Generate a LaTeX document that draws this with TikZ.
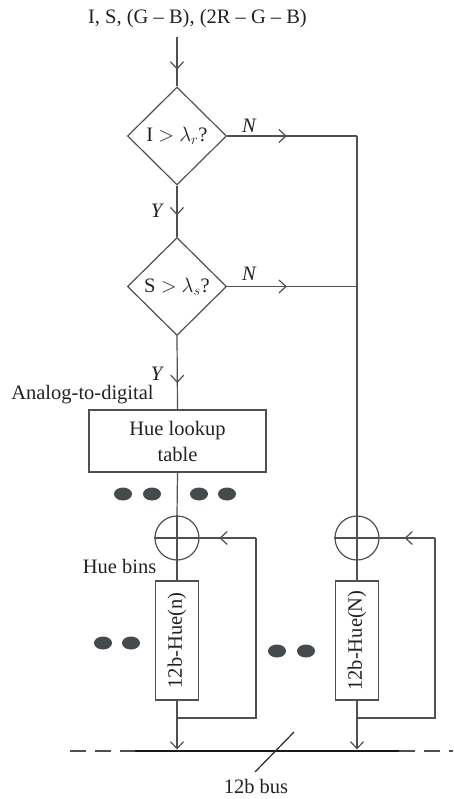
\documentclass[tikz,border=0pt]{standalone}
\usepackage{fontspec}
\setmainfont{Liberation Serif}
\usetikzlibrary{shapes.geometric,arrows.meta,decorations.markings}
\definecolor{ln}{HTML}{505050}
\definecolor{dotc}{HTML}{454B4D}
\definecolor{txt}{HTML}{222222}
\tikzset{
  barb/.tip={Straight Barb[length=7pt,width=13pt]},
  midarr/.style={postaction={decorate},decoration={markings,mark=at position #1 with {\arrow{barb}}}},
  lbl/.style={font=\fontsize{20.5}{26}\selectfont, text=txt, inner sep=0pt},
  dec/.style={diamond, draw=ln, minimum width=99pt, minimum height=98pt, inner sep=0pt, font=\fontsize{20.5}{26}\selectfont, text=txt},
  boxn/.style={rectangle, draw=ln, inner sep=0pt, font=\fontsize{20.5}{26}\selectfont, text=txt, align=center},
  sumn/.style={circle, draw=ln, minimum size=44pt, inner sep=0pt},
}
\begin{document}
\begin{tikzpicture}[x=1pt, y=-1pt, line width=1.2pt, draw=ln]
\useasboundingbox (0,0) rectangle (453,799);
% nodes
\node[lbl] (title) at (197.5,19) {I, S, (G -- B), (2R -- G -- B)};
\coordinate (in) at (177,37);
\node[dec] (d1) at (177,136) {I $>$ $\lambda_r$?};
\node[dec] (d2) at (177,286.5) {S $>$ $\lambda_s$?};
\node[boxn, minimum width=177pt, minimum height=62pt] (lut) at (177.5,441) {Hue lookup\\table};
\node[sumn] (c1) at (177,538) {};
\node[sumn] (c2) at (357,538) {};
\node[boxn, minimum width=43pt, minimum height=119pt] (b1) at (177,640.5) {\rotatebox{90}{12b-Hue(n)}};
\node[boxn, minimum width=43pt, minimum height=119pt] (b2) at (357,640.5) {\rotatebox{90}{12b-Hue(N)}};
\coordinate (j1) at (357,136);
\coordinate (j2) at (357,286.5);
\coordinate (f1) at (256,718);
\coordinate (f2) at (435,718);
\coordinate (busL) at (135,751);
\coordinate (busR) at (399,751);
\coordinate (dashL) at (70,751);
\coordinate (dashR) at (453,751);
\coordinate (s1) at (294,732);
\coordinate (s2) at (255,772);
% labels
\node[lbl] (n1) at (249.5,126) {\textit{N}};
\node[lbl] (n2) at (249.5,273.5) {\textit{N}};
\node[lbl] (y1) at (157.5,211) {\textit{Y}};
\node[lbl] (y2) at (157.5,373.5) {\textit{Y}};
\node[lbl] (adc) at (82.5,395) {Analog-to-digital};
\node[lbl] (bins) at (119.5,566) {Hue bins};
\node[lbl] (buslbl) at (256,786) {12b bus};
% connectors
\draw[midarr=0.66] (in) -- (d1.north);
\draw[midarr=0.58] (d1.south) -- (d2.north);
\draw[midarr=0.64] (d2.south) -- (lut.north);
\draw[midarr=0.46] (d1.east) -- (j1);
\draw[midarr=0.46] (d2.east) -- (j2);
\draw (j1) -- (c2.north);
\draw (lut.south) -- (c1.north);
\draw (c1.north) -- (c1.south) (c1.west) -- (c1.east);
\draw (c2.north) -- (c2.south) (c2.west) -- (c2.east);
\draw (c1.south) -- (b1.north);
\draw (c2.south) -- (b2.north);
\draw (b1.south |- f1) -- (f1) -- (f1 |- c1);
\draw[midarr=0.65] (f1 |- c1) -- (c1.east);
\draw (b2.south |- f2) -- (f2) -- (f2 |- c2);
\draw[midarr=0.55] (f2 |- c2) -- (c2.east);
\draw[-barb, shorten >=1.5pt] (b1.south) -- (b1.south |- busL);
\draw[-barb, shorten >=1.5pt] (b2.south) -- (b2.south |- busL);
% bus
\draw[line width=2.4pt, black!90] (busL) -- (busR);
\draw[dash pattern=on 16pt off 9pt] (dashL) -- (busL);
\draw[dash pattern=on 16pt off 9pt] (busR) -- (dashR);
\draw[black!85] (s1) -- (s2);
% dots
\foreach \px/\py in {123/494,152/494,199/494,227/494,103/643,131/643,277/651,306/651}
  \fill[dotc] (\px,\py) ellipse [x radius=9pt, y radius=6.5pt];
\end{tikzpicture}
\end{document}
